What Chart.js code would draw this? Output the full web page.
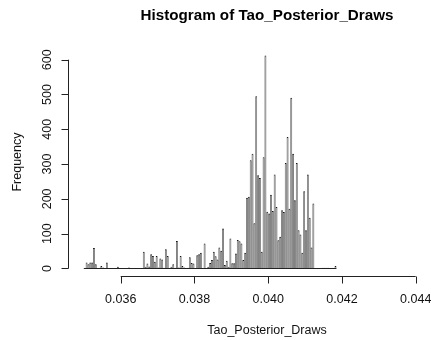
<!DOCTYPE html>
<html>
<head>
  <meta charset="UTF-8">
  <title>Histogram of Tao_Posterior_Draws</title>
  <script src="https://cdn.jsdelivr.net/npm/chart.js"></script>
  <style>
    body { margin: 0; background: #fff; }
  </style>
</head>
<body>
  <canvas id="histChart" width="431" height="340"></canvas>

  <script>
    // histogram bins: left edge of first bin and bin width
    const binStart = 0.035;
    const binWidth = 0.00005;

    // counts per bin
    const counts = [
      0, 17, 12, 17, 17, 59, 12, 0, 0, 7,
      3, 0, 17, 0, 0, 0, 0, 0, 5, 0,
      0, 0, 0, 0, 3, 0, 0, 0, 0, 0,
      0, 0, 48, 5, 14, 6, 41, 36, 19, 36,
      3, 29, 26, 2, 55, 36, 0, 5, 12, 2,
      79, 3, 36, 7, 3, 0, 2, 32, 16, 14,
      0, 38, 41, 45, 0, 72, 0, 5, 16, 24,
      48, 35, 26, 60, 51, 115, 10, 22, 5, 86,
      15, 15, 43, 82, 78, 72, 24, 45, 203, 206,
      311, 330, 130, 495, 268, 260, 48, 320, 612, 163,
      158, 212, 165, 270, 177, 81, 91, 167, 162, 303,
      378, 172, 491, 330, 196, 303, 110, 98, 45, 222,
      110, 270, 146, 60, 187, 0, 0, 0, 0, 2,
      2, 2, 2, 0, 0, 0, 7
    ];

    const xTicks = [0.036, 0.038, 0.040, 0.042, 0.044];
    const xTickLabels = ['0.036', '0.038', '0.040', '0.042', '0.044'];
    const yTicks = [0, 100, 200, 300, 400, 500, 600];

    const mainTitle = 'Histogram of Tao_Posterior_Draws';
    const xTitle = 'Tao_Posterior_Draws';
    const yTitle = 'Frequency';

    const points = counts.map((c, i) => ({ x: binStart + binWidth * (i + 0.5), y: c }));

    const FONT = '"Liberation Sans", Arial, sans-serif';
    const titleCenterX = 267;

    // R-style axes, drawn from the chart's own scales
    const rAxes = {
      id: 'rAxes',
      afterDraw(chart) {
        const ctx = chart.ctx;
        const xs = chart.scales.x;
        const ys = chart.scales.y;
        const area = chart.chartArea;
        ctx.save();
        ctx.strokeStyle = '#222';
        ctx.lineWidth = 1;

        // baseline under all bins
        const y0 = Math.round(ys.getPixelForValue(0)) + 0.5;
        ctx.beginPath();
        ctx.moveTo(xs.getPixelForValue(binStart), y0);
        ctx.lineTo(xs.getPixelForValue(binStart + binWidth * counts.length), y0);
        ctx.stroke();

        // x axis
        const xb = Math.round(ys.getPixelForValue(ys.min)) - 0.5;
        ctx.beginPath();
        ctx.moveTo(xs.getPixelForValue(xTicks[0]), xb);
        ctx.lineTo(xs.getPixelForValue(xTicks[xTicks.length - 1]), xb);
        ctx.stroke();
        xTicks.forEach(v => {
          const px = Math.round(xs.getPixelForValue(v)) + 0.5;
          ctx.beginPath();
          ctx.moveTo(px, xb);
          ctx.lineTo(px, xb + 7);
          ctx.stroke();
        });

        ctx.fillStyle = '#111';
        ctx.font = '12.5px ' + FONT;
        ctx.textAlign = 'center';
        ctx.textBaseline = 'middle';
        xTicks.forEach((v, i) => {
          ctx.fillText(xTickLabels[i], xs.getPixelForValue(v), xb + 23);
        });

        // y axis
        const xl = Math.round(xs.getPixelForValue(xs.min)) + 0.5;
        ctx.beginPath();
        ctx.moveTo(xl, ys.getPixelForValue(yTicks[0]));
        ctx.lineTo(xl, ys.getPixelForValue(yTicks[yTicks.length - 1]));
        yTicks.forEach(v => {
          const py = Math.round(ys.getPixelForValue(v)) + 0.5;
          ctx.moveTo(xl, py);
          ctx.lineTo(xl - 7, py);
        });
        ctx.stroke();

        yTicks.forEach(v => {
          ctx.save();
          ctx.translate(xl - 21, ys.getPixelForValue(v));
          ctx.rotate(-Math.PI / 2);
          ctx.fillText(String(v), 0, 0);
          ctx.restore();
        });

        // axis titles
        ctx.fillText(xTitle, titleCenterX, 331);
        ctx.save();
        ctx.translate(18, (area.top + area.bottom) / 2);
        ctx.rotate(-Math.PI / 2);
        ctx.fillText(yTitle, 0, 0);
        ctx.restore();

        // main title
        ctx.fillStyle = '#000';
        ctx.font = 'bold 15.2px ' + FONT;
        ctx.fillText(mainTitle, titleCenterX, 16);
        ctx.restore();
      }
    };

    const ctx = document.getElementById('histChart').getContext('2d');

    new Chart(ctx, {
      type: 'bar',
      data: {
        datasets: [{
          label: xTitle,
          data: points,
          backgroundColor: '#9a9a9a',
          borderColor: '#161616',
          borderWidth: { left: 0.6, right: 0.6, top: 1, bottom: 0 },
          borderSkipped: false,
          inflateAmount: 0,
          barPercentage: 1,
          categoryPercentage: 1,
          grouped: false
        }]
      },
      options: {
        responsive: false,
        animation: false,
        devicePixelRatio: 1,
        layout: { padding: { left: 68, right: 0, top: 47, bottom: 63 } },
        scales: {
          x: { type: 'linear', min: 0.034571, max: 0.044415, offset: false, bounds: 'data', display: false },
          y: { min: -24.5, max: 636.5, display: false }
        },
        plugins: {
          legend: { display: false },
          tooltip: { enabled: false },
          title: { display: false }
        }
      },
      plugins: [rAxes]
    });
  </script>
</body>
</html>
